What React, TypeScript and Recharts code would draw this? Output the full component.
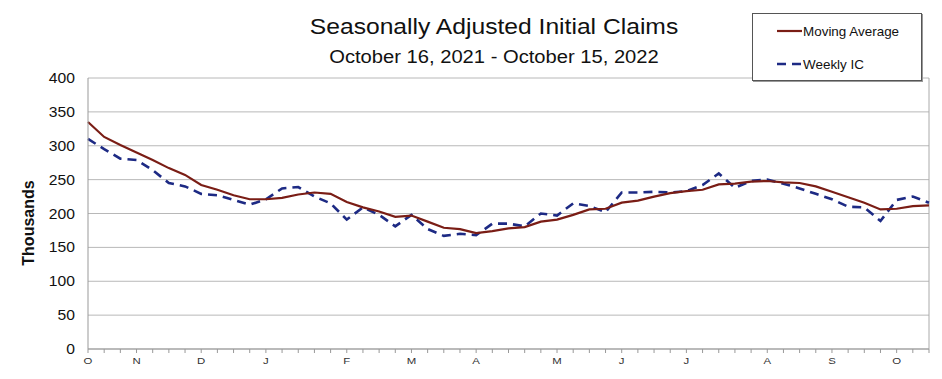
import { LineChart, Line, XAxis, YAxis, CartesianGrid, ReferenceLine } from "recharts";

// week-ending dates, Oct 16 2021 .. Oct 15 2022
const weeks = [
  "2021-10-16", "2021-10-23", "2021-10-30", "2021-11-06", "2021-11-13", "2021-11-20", "2021-11-27",
  "2021-12-04", "2021-12-11", "2021-12-18", "2021-12-25", "2022-01-01", "2022-01-08", "2022-01-15",
  "2022-01-22", "2022-01-29", "2022-02-05", "2022-02-12", "2022-02-19", "2022-02-26", "2022-03-05",
  "2022-03-12", "2022-03-19", "2022-03-26", "2022-04-02", "2022-04-09", "2022-04-16", "2022-04-23",
  "2022-04-30", "2022-05-07", "2022-05-14", "2022-05-21", "2022-05-28", "2022-06-04", "2022-06-11",
  "2022-06-18", "2022-06-25", "2022-07-02", "2022-07-09", "2022-07-16", "2022-07-23", "2022-07-30",
  "2022-08-06", "2022-08-13", "2022-08-20", "2022-08-27", "2022-09-03", "2022-09-10", "2022-09-17",
  "2022-09-24", "2022-10-01", "2022-10-08", "2022-10-15",
];

// thousands
const movingAvg = [
  335, 313, 301, 290, 279, 267, 257, 242, 235, 227, 221, 221, 223, 228, 231, 229, 217, 209,
  203, 195, 197, 188, 179, 177, 171, 174, 178, 180, 188, 191, 198, 206, 207, 216, 219, 225,
  230, 233, 235, 243, 244, 247, 248, 246, 245, 240, 232, 224, 216, 206, 207, 211, 212,
];

const weeklyIC = [
  310, 295, 281, 279, 264, 245, 240, 229, 227, 220, 213, 221, 237, 239, 225, 215, 191, 209,
  198, 181, 198, 177, 167, 170, 168, 185, 185, 181, 200, 197, 215, 211, 202, 231, 231, 232,
  231, 233, 242, 259, 238, 248, 250, 244, 237, 229, 221, 210, 209, 189, 220, 225, 216,
];

const yTicks = [0, 50, 100, 150, 200, 250, 300, 350, 400];
const MONTH_LETTERS = "JFMAMJJASOND";

const RED = "#7a1d15";
const BLUE = "#1d2a84";
const FONT = "Arial, 'Liberation Sans', sans-serif";

const data = weeks.map((w, i) => ({ week: w, ma: movingAvg[i], ic: weeklyIC[i] }));

// first week shown and first week of each month get the month's initial
function monthLabel(iso: string, index: number) {
  const m = Number(iso.slice(5, 7));
  const d = Number(iso.slice(8, 10));
  return d <= 7 || index === 0 ? MONTH_LETTERS[m - 1] : "";
}

function XTick(props: any) {
  const { x, y, payload } = props;
  const label = monthLabel(String(payload.value), payload.index);
  if (!label) return null;
  return (
    <text
      transform={`translate(${x},${y}) scale(1.2,1)`}
      dy={8}
      textAnchor="middle"
      fontSize={9.5}
      fontFamily={FONT}
      fill="#333"
    >
      {label}
    </text>
  );
}

function YTick(props: any) {
  const { x, y, payload } = props;
  return (
    <text
      transform={`translate(${x},${y}) scale(1.12,1)`}
      dy="0.36em"
      textAnchor="end"
      fontSize={14}
      fontFamily={FONT}
      fill="#111"
    >
      {payload.value}
    </text>
  );
}

export default function App() {
  return (
    <div style={{ position: "absolute", left: 0, top: 0, width: 942, height: 379, background: "#fff", fontFamily: FONT }}>
      <LineChart width={942} height={379} data={data} margin={{ top: 78, right: 13, bottom: 0, left: 0 }}>
        <CartesianGrid vertical={false} stroke="#b8b8b8" />
        <XAxis
          dataKey="week"
          interval={0}
          height={30}
          tick={<XTick />}
          tickSize={4}
          tickMargin={3}
          tickLine={{ stroke: "#999" }}
          axisLine={{ stroke: "#999" }}
        />
        <YAxis
          width={88}
          domain={[0, 400]}
          ticks={yTicks}
          tick={<YTick />}
          tickLine={false}
          tickSize={0}
          tickMargin={13}
          axisLine={{ stroke: "#999" }}
        />
        <ReferenceLine x={weeks[weeks.length - 1]} stroke="#aaa" />
        <Line
          dataKey="ic"
          stroke={BLUE}
          strokeWidth={2.6}
          strokeDasharray="9 6"
          dot={false}
          isAnimationActive={false}
        />
        <Line dataKey="ma" stroke={RED} strokeWidth={2.2} dot={false} isAnimationActive={false} />
      </LineChart>

      <div
        style={{
          position: "absolute", left: 494, top: 16, fontSize: 22, lineHeight: "22px", whiteSpace: "nowrap",
          transform: "translateX(-50%) scaleX(1.12)", color: "#111",
        }}
      >
        Seasonally Adjusted Initial Claims
      </div>
      <div
        style={{
          position: "absolute", left: 494, top: 48, fontSize: 18, lineHeight: "18px", whiteSpace: "nowrap",
          transform: "translateX(-50%) scaleX(1.12)", color: "#111",
        }}
      >
        October 16, 2021 - October 15, 2022
      </div>
      <div
        style={{
          position: "absolute", left: 29, top: 223, fontSize: 16, fontWeight: "bold", whiteSpace: "nowrap",
          transform: "translate(-50%,-50%) rotate(-90deg)", color: "#111",
        }}
      >
        Thousands
      </div>

      <div
        style={{
          position: "absolute", left: 752, top: 13, width: 168, height: 66, background: "#fff",
          border: "1px solid #555", boxShadow: "1px 1px 0 #999",
        }}
      >
        <svg width={168} height={66}>
          <line x1={24} x2={49} y1={17} y2={17} stroke={RED} strokeWidth={2.2} />
          <text transform="translate(50,21.5) scale(1.12,1)" fontSize={12} fontFamily={FONT} fill="#111">
            Moving Average
          </text>
          <line x1={24} x2={48} y1={50} y2={50} stroke={BLUE} strokeWidth={2.6} strokeDasharray="9 6" />
          <text transform="translate(50,54.5) scale(1.12,1)" fontSize={12} fontFamily={FONT} fill="#111">
            Weekly IC
          </text>
        </svg>
      </div>
    </div>
  );
}
